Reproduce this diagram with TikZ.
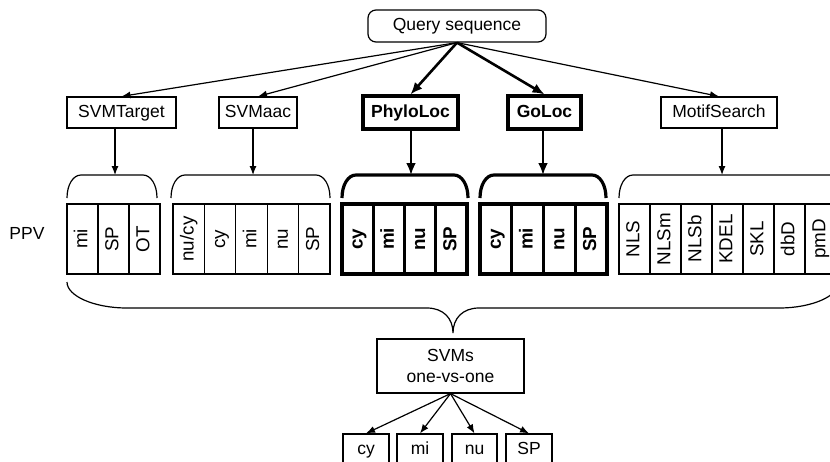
\documentclass[tikz,border=0pt]{standalone}
\usepackage{fontspec}
\setmainfont{Liberation Sans}
\usetikzlibrary{arrows.meta}

% curly top bracket over a group of cells, from x=#1 to x=#2
\newcommand\topbrace[3]{%
  \draw[#3] (#1,198) .. controls (#1,185) and (#1+6,175) .. (#1+14,175)
    -- (#2-14,175) .. controls (#2-6,175) and (#2,185) .. (#2,198);}

\begin{document}
\begin{tikzpicture}[x=0.5pt,y=-0.5pt,
  font=\fontsize{8.75}{10.5}\selectfont,
  thin/.style={line width=0.6pt},
  thick/.style={line width=1.6pt},
  box/.style={draw, thin, inner sep=0pt, minimum height=15.5pt, text height=6.4pt, text depth=1.8pt},
  boldbox/.style={draw, thick, inner sep=0pt, minimum height=16.5pt, text height=6.4pt, text depth=1.8pt, font=\fontsize{8.75}{10.5}\selectfont\bfseries},
  cellfont/.style={font=\fontsize{9.4}{11}\selectfont},
  cell/.style={draw, thin, inner sep=0pt, rotate=90, minimum width=35pt, text height=6.8pt, text depth=1.9pt, cellfont},
  boldcell/.style={draw, thick, inner sep=0pt, rotate=90, minimum width=35pt, text height=6.8pt, text depth=1.9pt, font=\fontsize{9.4}{11}\selectfont\bfseries},
  thinarrow/.style={thin, -{Latex[length=4.5pt,width=3.5pt]}},
  thickarrow/.style={line width=1.3pt, -{Latex[length=6pt,width=5pt]}}
]
\useasboundingbox (0,0) rectangle (830,461);

% root
\node[draw, thin, rounded corners=4pt, inner sep=0pt, minimum width=89pt, minimum height=16pt] (q) at (457,26) {Query sequence};

% predictors
\node[box, minimum width=54.5pt] (st) at (121.5,112.5) {SVMTarget};
\node[box, minimum width=39pt] (sa) at (258,112.5) {SVMaac};
\node[boldbox, minimum width=47.5pt] (pl) at (410.5,112.5) {PhyloLoc};
\node[boldbox, minimum width=36.5pt] (gl) at (544.5,112.5) {GoLoc};
\node[box, minimum width=58pt] (ms) at (719,112.5) {MotifSearch};

\draw[thinarrow] (q.south) -- (st.north);
\draw[thinarrow] (q.south) -- (sa.north);
\draw[thickarrow] (q.south) -- (pl.north);
\draw[thickarrow] (q.south) -- (gl.north);
\draw[thinarrow] (q.south) -- (ms.north);

% bracket tops
\coordinate (b1) at (115,175);
\coordinate (b2) at (253,175);
\coordinate (b3) at (411,175);
\coordinate (b4) at (543,175);
\coordinate (b5) at (722,175);

\draw[thinarrow] (b1 |- st.south) -- (b1);
\draw[thinarrow] (b2 |- sa.south) -- (b2);
\draw[thickarrow] (b3 |- pl.south) -- (b3);
\draw[thickarrow] (b4 |- gl.south) -- (b4);
\draw[thinarrow] (b5 |- ms.south) -- (b5);

\topbrace{67}{157}{thin}
\topbrace{171}{330}{thin}
\topbrace{342}{468}{thick}
\topbrace{480}{606}{thick}
\topbrace{619}{880}{thin}

% PPV cells
\node (ppv) at (27,233) {PPV};
\foreach \t [count=\i] in {mi,SP,OT}
  \node[cell, minimum height=15.5pt] (ga\i) at ({67+31*(\i-0.5)},239) {\t};
\foreach \t [count=\i] in {nu/cy,cy,mi,nu,SP}
  \node[cell, minimum height=15.7pt] (gb\i) at ({173+31.4*(\i-0.5)},239) {\t};
\foreach \t [count=\i] in {cy,mi,nu,SP}
  \node[boldcell, minimum height=15.6pt] (gc\i) at ({342+31.25*(\i-0.5)},239) {\t};
\foreach \t [count=\i] in {cy,mi,nu,SP}
  \node[boldcell, minimum height=15.9pt] (gd\i) at ({480+31.75*(\i-0.5)},239) {\t};
\foreach \t [count=\i] in {NLS,NLSm,NLSb,KDEL,SKL,dbD,pmD}
  \node[cell, minimum height=15.5pt] (ge\i) at ({619+31*(\i-0.5)},239) {\t};

% large bracket gathering every PPV
\draw[thin] (67,282) .. controls (67,296) and (94,308) .. (127,308)
  -- (427,308) .. controls (443,308) and (453,318) .. (453,333)
  .. controls (453,318) and (463,308) .. (479,308)
  -- (779,308) .. controls (812,308) and (839,296) .. (839,282);

% final classifier
\node[draw, thin, inner sep=0pt, minimum width=73.5pt, minimum height=27pt, align=center] (svm) at (450.5,366) {SVMs\\one-vs-one};

\node[box, minimum width=23pt, minimum height=16pt] (o1) at (366,450) {cy};
\node[box, minimum width=23pt, minimum height=16pt] (o2) at (420,450) {mi};
\node[box, minimum width=22.5pt, minimum height=16pt] (o3) at (474.5,450) {nu};
\node[box, minimum width=23pt, minimum height=16pt] (o4) at (529,450) {SP};

\foreach \o in {o1,o2,o3,o4}
  \draw[thinarrow] (svm.south) -- (\o.north);
\end{tikzpicture}
\end{document}
